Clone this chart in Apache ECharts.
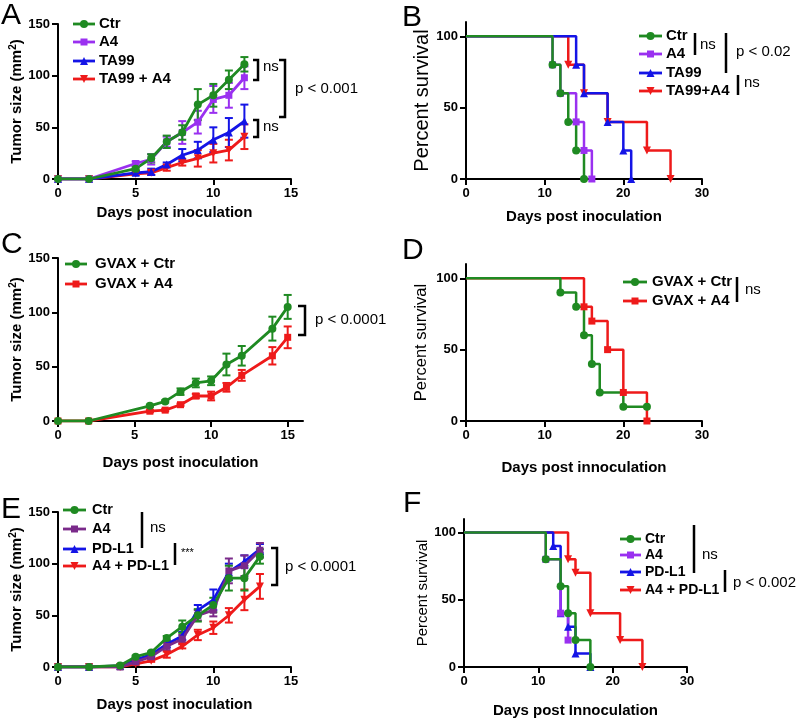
<!DOCTYPE html>
<html><head><meta charset="utf-8">
<script src="https://cdn.jsdelivr.net/npm/echarts@6/dist/echarts.min.js"></script>
<style>html,body{margin:0;padding:0;background:#fff}#c{width:800px;height:720px}</style>
</head><body><div id="c"></div>
<script>
// ---------- DATA ----------
// Panel A: tumor growth
const daysA = [0, 2, 5, 6, 7, 8, 9, 10, 11, 12];
const ctrA = [0, 0, 10, 20, 36, 45, 72, 81, 96, 111];
const ctrAErr = [0, 0, 2, 4, 6, 7, 15, 11, 9, 7];
const a4A = [0, 0, 15, 19, 36, 45, 55, 77, 81, 98];
const a4AErr = [0, 0, 2, 5, 5, 11, 11, 13, 12, 11];
const ta99A = [0, 0, 6, 7, 14, 23, 28, 38, 45, 56];
const ta99AErr = [0, 0, 2, 3, 2, 6, 8, 12, 14, 16];
const comboA = [0, 0, 5, 6, 11, 16, 20, 25, 28, 41];
const comboAErr = [0, 0, 1, 2, 3, 3, 8, 9, 10, 12];
const legendA = ['Ctr', 'A4', 'TA99', 'TA99 + A4'];

// Panel B: survival
const ctrBDays = [0, 11, 12, 13, 14, 15];
const ctrBSurv = [100, 80, 60, 40, 20, 0];
const a4BDays = [0, 11, 12, 14, 15, 16];
const a4BSurv = [100, 80, 60, 40, 20, 0];
const ta99BDays = [0, 14, 15, 18, 20, 21];
const ta99BSurv = [100, 80, 60, 40, 20, 0];
const comboBDays = [0, 13, 15, 18, 23, 26];
const comboBSurv = [100, 80, 60, 40, 20, 0];
const legendB = ['Ctr', 'A4', 'TA99', 'TA99+A4'];

// Panel C: tumor growth
const daysC = [0, 2, 6, 7, 8, 9, 10, 11, 12, 14, 15];
const ctrC = [0, 0, 14, 18, 27, 35, 37, 52, 60, 85, 105];
const ctrCErr = [0, 0, 1, 1, 3, 4, 4, 10, 9, 11, 11];
const a4C = [0, 0, 9, 10, 15, 23, 23, 31, 42, 60, 77];
const a4CErr = [0, 0, 1, 1, 1, 2, 4, 4, 5, 8, 10];
const legendC = ['GVAX + Ctr', 'GVAX + A4'];

// Panel D: survival
const ctrDDays = [0, 12, 14, 15, 16, 17, 20, 23];
const ctrDSurv = [100, 90, 80, 60, 40, 20, 10, 10];
const a4DDays = [0, 15, 16, 18, 20, 23];
const a4DSurv = [100, 80, 70, 50, 20, 0];
const legendD = ['GVAX + Ctr', 'GVAX + A4'];

// Panel E: tumor growth
const daysE = [0, 2, 4, 5, 6, 7, 8, 9, 10, 11, 12, 13];
const ctrE = [0, 0, 1.5, 10, 14, 28, 39, 50, 60, 86, 86, 107];
const ctrEErr = [0, 0, 0.5, 1, 1, 2, 6, 6, 7, 12, 12, 7];
const a4E = [0, 0, 0, 5, 10, 20, 27, 50, 55, 93, 98, 113];
const a4EErr = [0, 0, 0, 1, 2, 4, 4, 5, 6, 12, 10, 7];
const pdl1E = [0, 0, 1, 7, 12, 22, 30, 55, 65, 92, 102, 114];
const pdl1EErr = [0, 0, 0.5, 1, 2, 3, 4, 5, 10, 8, 6, 5];
const comboE = [0, 0, 0, 3, 6, 12, 20, 31, 38, 50, 65, 78];
const comboEErr = [0, 0, 0, 1, 1, 3, 2, 5, 6, 7, 10, 12];
const legendE = ['Ctr', 'A4', 'PD-L1', 'A4 + PD-L1'];

// Panel F: survival
const ctrFDays = [0, 11, 13, 14, 15, 17];
const ctrFSurv = [100, 80, 60, 40, 20, 0];
const a4FDays = [0, 11, 13, 14];
const a4FSurv = [100, 80, 40, 20];
const pdl1FDays = [0, 12, 13, 14, 15, 17];
const pdl1FSurv = [100, 90, 40, 30, 10, 0];
const comboFDays = [0, 14, 15, 17, 21, 24];
const comboFSurv = [100, 80, 70, 40, 20, 0];
const legendF = ['Ctr', 'A4', 'PD-L1', 'A4 + PD-L1'];

const tumorTicks = [0, 50, 100, 150];
const survTicks = [0, 50, 100];
const dayTicksShort = [0, 5, 10, 15];

// ---------- STYLE ----------
const FONT = "'Liberation Sans', Arial, Helvetica, sans-serif";
const GREEN = '#1f8a22', PURPLE = '#9a30f0', PURPLE2 = '#7a2a8a', BLUE = '#1414e6', RED = '#ee1a1a';

const grids = [
  {left: 58, top: 24, width: 233, height: 155},
  {left: 466, top: 22, width: 236, height: 157},
  {left: 58, top: 258, width: 245, height: 163},
  {left: 466, top: 264, width: 236, height: 157},
  {left: 58, top: 512, width: 233, height: 155},
  {left: 464, top: 519, width: 223, height: 148}
];

const axisCommon = {
  axisLine: {show: true, onZero: false, lineStyle: {color: '#000', width: 2}},
  axisTick: {show: true, length: 6, lineStyle: {color: '#000', width: 2}},
  splitLine: {show: false},
  axisLabel: {color: '#000', fontWeight: 'bold', fontSize: 13, fontFamily: FONT},
  nameTextStyle: {color: '#000', fontFamily: FONT}
};
function xAx(grid, max, interval, name, gap, custom) {
  const a = JSON.parse(JSON.stringify(axisCommon));
  Object.assign(a, {type: 'value', gridIndex: grid, min: 0, max: max, interval: interval,
    name: name, nameLocation: 'middle', nameGap: gap});
  a.nameTextStyle.fontWeight = 'bold'; a.nameTextStyle.fontSize = 15;
  a.axisLabel.margin = 8;
  if (custom) { a.axisLabel.customValues = custom; a.axisTick.customValues = custom; }
  return a;
}
function yAx(grid, max, interval, name, gap, custom, bold, fs) {
  const a = JSON.parse(JSON.stringify(axisCommon));
  Object.assign(a, {type: 'value', gridIndex: grid, min: 0, max: max, interval: interval,
    name: name, nameLocation: 'middle', nameGap: gap, nameRotate: 90});
  a.axisLabel.margin = 8;
  a.nameTextStyle.fontSize = fs;
  a.nameTextStyle.fontWeight = bold ? 'bold' : 'normal';
  a.nameTextStyle.rich = {
    a: {fontSize: 15, fontWeight: 'bold', fontFamily: FONT, color: '#000', lineHeight: 18},
    s: {fontSize: 10, fontWeight: 'bold', fontFamily: FONT, color: '#000', verticalAlign: 'top', lineHeight: 18}
  };
  if (custom) { a.axisLabel.customValues = custom; a.axisTick.customValues = custom; }
  return a;
}
const tumorName = '{a|Tumor size (mm}{s|2}{a|)}';

const xAxes = [
  xAx(0, 15, 5, 'Days post inoculation', 26),
  xAx(1, 30, 10, 'Days post inoculation', 30),
  xAx(2, 16, 5, 'Days post inoculation', 34, dayTicksShort),
  xAx(3, 30, 10, 'Days post innoculation', 39),
  xAx(4, 15, 5, 'Days post inoculation', 30),
  xAx(5, 30, 10, 'Days post Innoculation', 36)
];
const yAxes = [
  yAx(0, 150, 50, tumorName, 31, null, true, 15),
  yAx(1, 110, 50, 'Percent survival', 34, survTicks, false, 20),
  yAx(2, 150, 50, tumorName, 31, null, true, 15),
  yAx(3, 110, 50, 'Percent survival', 36, survTicks, false, 16.5),
  yAx(4, 150, 50, tumorName, 31, null, true, 15),
  yAx(5, 110, 50, 'Percent survival', 34, survTicks, false, 15)
];

function symOpts(shape) {
  if (shape === 'down') return {symbol: 'triangle', symbolRotate: 180};
  if (shape === 'rect') return {symbol: 'rect', symbolRotate: 0};
  return {symbol: shape, symbolRotate: 0};
}
function tumor(grid, name, xs, ys, errs, color, shape) {
  const so = symOpts(shape);
  const errData = [];
  xs.forEach((x, i) => { if (errs[i] > 0) errData.push([x, ys[i], errs[i]]); });
  return [
    {type: 'custom', name: name + ' err', xAxisIndex: grid, yAxisIndex: grid, data: errData,
     encode: {x: 0, y: 1}, z: 2, silent: true,
     renderItem: function (params, api) {
       const x = api.value(0), y = api.value(1), e = api.value(2);
       const t = api.coord([x, y + e]), b = api.coord([x, Math.max(0, y - e)]);
       const hw = 4, st = {stroke: color, lineWidth: 2};
       return {type: 'group', children: [
         {type: 'line', shape: {x1: t[0], y1: t[1], x2: b[0], y2: b[1]}, style: st},
         {type: 'line', shape: {x1: t[0] - hw, y1: t[1], x2: t[0] + hw, y2: t[1]}, style: st},
         {type: 'line', shape: {x1: b[0] - hw, y1: b[1], x2: b[0] + hw, y2: b[1]}, style: st}
       ]};
     }},
    {type: 'line', name: name, xAxisIndex: grid, yAxisIndex: grid, z: 3,
     data: xs.map((x, i) => [x, ys[i]]), symbol: so.symbol, symbolRotate: so.symbolRotate,
     symbolSize: shape === 'rect' ? 7 : 8, showSymbol: true, silent: true,
     lineStyle: {color: color, width: 2.8}, itemStyle: {color: color}}
  ];
}
function surv(grid, name, ts, ss, color, shape) {
  const so = symOpts(shape);
  return {type: 'line', name: name, xAxisIndex: grid, yAxisIndex: grid, step: 'end', z: 3, silent: true,
    data: ts.map((t, i) => i === 0 ? {value: [t, ss[i]], symbol: 'none'} : [t, ss[i]]),
    symbol: so.symbol, symbolRotate: so.symbolRotate, symbolSize: shape === 'rect' ? 7 : 8,
    lineStyle: {color: color, width: 2.5}, itemStyle: {color: color}};
}

const series = [].concat(
  tumor(0, 'TA99 + A4', daysA, comboA, comboAErr, RED, 'down'),
  tumor(0, 'TA99', daysA, ta99A, ta99AErr, BLUE, 'triangle'),
  tumor(0, 'A4', daysA, a4A, a4AErr, PURPLE, 'rect'),
  tumor(0, 'Ctr', daysA, ctrA, ctrAErr, GREEN, 'circle'),
  [surv(1, 'TA99+A4', comboBDays, comboBSurv, RED, 'down'),
   surv(1, 'TA99', ta99BDays, ta99BSurv, BLUE, 'triangle'),
   surv(1, 'A4', a4BDays, a4BSurv, PURPLE, 'rect'),
   surv(1, 'Ctr', ctrBDays, ctrBSurv, GREEN, 'circle')],
  tumor(2, 'GVAX + A4', daysC, a4C, a4CErr, RED, 'rect'),
  tumor(2, 'GVAX + Ctr', daysC, ctrC, ctrCErr, GREEN, 'circle'),
  [surv(3, 'GVAX + A4', a4DDays, a4DSurv, RED, 'rect'),
   surv(3, 'GVAX + Ctr', ctrDDays, ctrDSurv, GREEN, 'circle')],
  tumor(4, 'A4 + PD-L1', daysE, comboE, comboEErr, RED, 'down'),
  tumor(4, 'PD-L1', daysE, pdl1E, pdl1EErr, BLUE, 'triangle'),
  tumor(4, 'A4', daysE, a4E, a4EErr, PURPLE2, 'rect'),
  tumor(4, 'Ctr', daysE, ctrE, ctrEErr, GREEN, 'circle'),
  [surv(5, 'A4 + PD-L1', comboFDays, comboFSurv, RED, 'down'),
   surv(5, 'PD-L1', pdl1FDays, pdl1FSurv, BLUE, 'triangle'),
   surv(5, 'A4', a4FDays, a4FSurv, PURPLE, 'rect'),
   surv(5, 'Ctr', ctrFDays, ctrFSurv, GREEN, 'circle')]
);

// ---------- ANNOTATIONS (legends, brackets, letters) ----------
const G = [];
function symShape(type, cx, cy, color, size) {
  const r = size / 2;
  if (type === 'circle') return {type: 'circle', shape: {cx: cx, cy: cy, r: r}, style: {fill: color}};
  if (type === 'rect') return {type: 'rect', shape: {x: cx - r, y: cy - r, width: size, height: size}, style: {fill: color}};
  if (type === 'triangle') return {type: 'polygon', shape: {points: [[cx, cy - r], [cx + r, cy + r], [cx - r, cy + r]]}, style: {fill: color}};
  return {type: 'polygon', shape: {points: [[cx - r, cy - r], [cx + r, cy - r], [cx, cy + r]]}, style: {fill: color}};
}
function legend(x0, w, tx, rows, names, colors, shapes, fs) {
  names.forEach((n, i) => {
    const y = rows[i];
    G.push({type: 'line', shape: {x1: x0, y1: y, x2: x0 + w, y2: y}, style: {stroke: colors[i], lineWidth: 2.8}});
    G.push(symShape(shapes[i], x0 + w / 2, y, colors[i], shapes[i] === 'rect' ? 7 : 8));
    G.push({type: 'text', x: tx, y: y, style: {text: n, fill: '#000', fontFamily: FONT, fontWeight: 'bold', fontSize: fs, verticalAlign: 'middle', align: 'left'}});
  });
}
function vline(x, y1, y2) { G.push({type: 'line', shape: {x1: x, y1: y1, x2: x, y2: y2}, style: {stroke: '#000', lineWidth: 2.5}}); }
function bracket(x1, x2, y1, y2) {
  G.push({type: 'polyline', shape: {points: [[x1, y1], [x2, y1], [x2, y2], [x1, y2]]}, style: {stroke: '#000', lineWidth: 2.5, fill: null}});
}
function label(x, y, t, fs) {
  G.push({type: 'text', x: x, y: y, style: {text: t, fill: '#000', fontFamily: FONT, fontSize: fs || 15, verticalAlign: 'middle', align: 'left'}});
}
function letter(x, y, t) {
  G.push({type: 'text', x: x, y: y, style: {text: t, fill: '#000', fontFamily: FONT, fontSize: 30, verticalAlign: 'middle', align: 'left'}});
}

letter(1, 16, 'A'); letter(402, 18, 'B'); letter(1, 245, 'C'); letter(402, 251, 'D'); letter(1, 510, 'E'); letter(403, 504, 'F');

legend(73, 22, 99, [24, 42, 61, 79], legendA, [GREEN, PURPLE, BLUE, RED], ['circle', 'rect', 'triangle', 'down'], 15);
bracket(253, 258, 60, 80); label(263, 67, 'ns');
bracket(253, 258, 120, 137); label(263, 127, 'ns');
bracket(279, 285, 60, 117); label(295, 89, 'p < 0.001');

legend(639, 23, 666, [36, 54, 73, 91], legendB, [GREEN, PURPLE, BLUE, RED], ['circle', 'rect', 'triangle', 'down'], 15);
vline(695, 33, 55); label(700, 45, 'ns');
vline(726, 33, 73); label(736, 52, 'p < 0.02');
vline(738, 75, 95); label(744, 83, 'ns');

legend(65, 22, 95, [264, 284], legendC, [GREEN, RED], ['circle', 'rect'], 15);
bracket(298, 305, 306, 335); label(315, 320, 'p < 0.0001');

legend(623, 24, 652, [282, 301], legendD, [GREEN, RED], ['circle', 'rect'], 15);
vline(737, 277, 302); label(745, 290, 'ns');

legend(63, 23, 92, [510, 529, 549, 566], legendE, [GREEN, PURPLE2, BLUE, RED], ['circle', 'rect', 'triangle', 'down'], 14.5);
vline(142, 512, 548); label(150, 528, 'ns');
vline(175, 543, 565); label(181, 553, '***', 11);
bracket(271, 277, 548, 585); label(285, 567, 'p < 0.0001');

legend(620, 21, 645, [539, 555, 572, 590], legendF, [GREEN, PURPLE, BLUE, RED], ['circle', 'rect', 'triangle', 'down'], 14);
vline(694, 525, 573); label(702, 555, 'ns');
vline(725, 570, 592); label(733, 583, 'p < 0.002');

const chart = echarts.init(document.getElementById('c'), null, {renderer: 'canvas'});
chart.setOption({
  animation: false,
  backgroundColor: '#fff',
  textStyle: {fontFamily: FONT},
  grid: grids,
  xAxis: xAxes,
  yAxis: yAxes,
  series: series,
  graphic: {elements: G.map(e => Object.assign({silent: true, z: 100}, e))}
});
</script></body></html>
